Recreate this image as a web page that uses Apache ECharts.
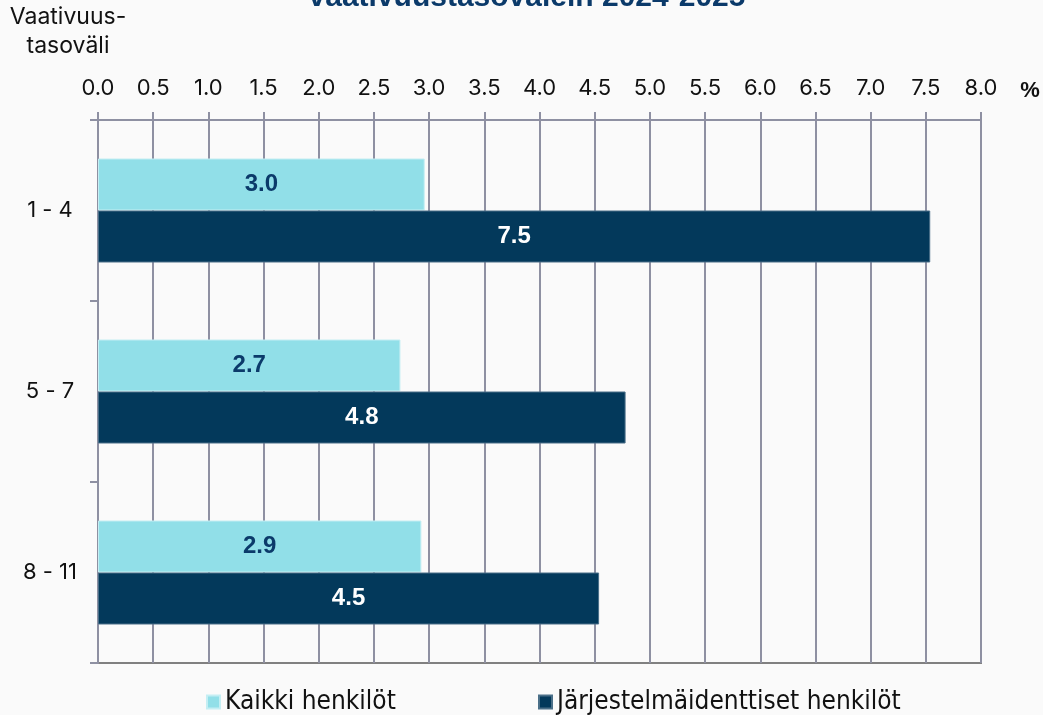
<!DOCTYPE html>
<html>
<head>
<meta charset="utf-8">
<script src="https://cdn.jsdelivr.net/npm/echarts@6/dist/echarts.min.js"></script>
<style>
html,body{margin:0;padding:0;background:#fafafa;}
#c{width:1043px;height:715px;}
</style>
</head>
<body>
<div id="c"></div>
<script>
const categories = ['1 - 4', '5 - 7', '8 - 11'];
const kaikki = [2.96, 2.74, 2.93];
const jarjestelma = [7.54, 4.78, 4.54];
const seriesNames = ['Kaikki henkilöt', 'Järjestelmäidenttiset henkilöt'];
const titleText = 'vaativuustasovälein 2024-2025';
const axisTitle = 'Vaativuus-\ntasoväli';
const unitText = '%';

const chart = echarts.init(document.getElementById('c'), null, {renderer: 'canvas'});
const gridColor = '#8e90a2';
const tickFont = 'Inter, "Noto Sans", sans-serif';
const legendText = {fontSize: 26, fontFamily: '"Liberation Sans Narrow", "DejaVu Sans Condensed", Roboto, sans-serif', color: '#111'};
chart.setOption({
  backgroundColor: '#fafafa',
  animation: false,
  grid: {left: 98, right: 62, top: 120, bottom: 52, show: true, borderColor: '#808080', borderWidth: 2, backgroundColor: 'transparent'},
  graphic: [
    {type: 'text', x: 527, y: 13, style: {text: titleText, textAlign: 'center', textVerticalAlign: 'bottom', font: 'bold 30px "Liberation Sans", Arial, sans-serif', fill: '#0b3a6a'}},
    {type: 'text', x: 68, y: 3, style: {text: axisTitle, textAlign: 'center', textVerticalAlign: 'top', font: '23px ' + tickFont, lineHeight: 29, fill: '#111'}},
    {type: 'text', x: 1030, y: 91, style: {text: unitText, textAlign: 'center', textVerticalAlign: 'middle', font: 'bold 22px "Liberation Sans", Arial, sans-serif', fill: '#111'}}
  ],
  legend: [
    {data: [seriesNames[0]], left: 201, top: 684, itemWidth: 13, itemHeight: 13, icon: 'rect', textStyle: legendText},
    {data: [seriesNames[1]], left: 533, top: 684, itemWidth: 13, itemHeight: 13, icon: 'rect', textStyle: legendText}
  ],
  xAxis: {
    type: 'value', position: 'top', min: 0, max: 8, interval: 0.5,
    axisLine: {show: true, lineStyle: {color: gridColor, width: 2}},
    axisTick: {show: true, length: 8, lineStyle: {color: gridColor, width: 2}},
    splitLine: {show: true, lineStyle: {color: gridColor, width: 2}},
    axisLabel: {formatter: v => v.toFixed(1), fontSize: 22, fontFamily: tickFont, color: '#111', margin: 21}
  },
  yAxis: {
    type: 'category', inverse: true, data: categories,
    axisLine: {show: true, lineStyle: {color: gridColor, width: 2}},
    axisTick: {show: true, length: 8, lineStyle: {color: gridColor, width: 2}},
    axisLabel: {fontSize: 22, fontFamily: tickFont, color: '#111', align: 'center', margin: 48}
  },
  series: [
    {name: seriesNames[0], type: 'bar', data: kaikki, barWidth: 52, barGap: '0%',
     itemStyle: {color: '#91dfe8', borderColor: '#c4eef3', borderWidth: 1},
     label: {show: true, position: 'inside', formatter: p => p.value.toFixed(1), fontSize: 24, fontWeight: 'bold', fontFamily: '"Liberation Sans", Arial, sans-serif', color: '#0b3a6a'}},
    {name: seriesNames[1], type: 'bar', data: jarjestelma, barWidth: 52, barGap: '0%',
     itemStyle: {color: '#03395b', borderColor: '#4a6f88', borderWidth: 1},
     label: {show: true, position: 'inside', formatter: p => p.value.toFixed(1), fontSize: 24, fontWeight: 'bold', fontFamily: '"Liberation Sans", Arial, sans-serif', color: '#ffffff'}}
  ]
});
</script>
</body>
</html>
